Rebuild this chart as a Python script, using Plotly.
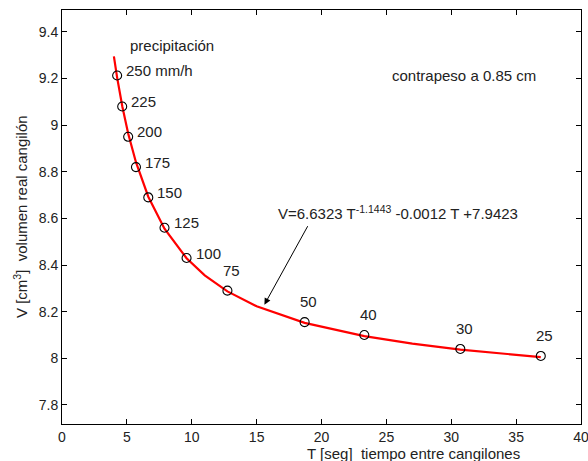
import plotly.graph_objects as go

# Measured points (T seconds, V cm3) and precipitation labels
point_T = [4.25, 4.64, 5.1, 5.7, 6.65, 7.9, 9.6, 12.75, 18.7, 23.3, 30.7, 36.9]
point_V = [9.213, 9.08, 8.95, 8.82, 8.69, 8.56, 8.43, 8.29, 8.155, 8.10, 8.04, 8.01]
point_labels = ["250 mm/h", "225", "200", "175", "150", "125", "100", "75", "50", "40", "30", "25"]

# Fitted curve
curve_T = [4.0, 4.25, 4.65, 5.1, 5.7, 6.65, 7.9, 9.6, 11, 12.75, 15, 18.7, 23.3, 27, 30.7, 34, 36.9]
curve_V = [9.295, 9.204, 9.080, 8.964, 8.841, 8.693, 8.556, 8.429, 8.356, 8.287, 8.223,
           8.152, 8.095, 8.063, 8.037, 8.019, 8.005]

x_ticks = [0, 5, 10, 15, 20, 25, 30, 35, 40]
y_ticks = [7.8, 8, 8.2, 8.4, 8.6, 8.8, 9, 9.2, 9.4]
y_tick_text = ["7.8", "8", "8.2", "8.4", "8.6", "8.8", "9", "9.2", "9.4"]

FONT = "Liberation Sans, Arial, sans-serif"
TXT = "#222222"
FS = 15

fig = go.Figure()
fig.add_trace(go.Scatter(x=curve_T, y=curve_V, mode="lines",
                         line=dict(color="#ff0000", width=2.2), hoverinfo="skip"))
fig.add_trace(go.Scatter(x=point_T, y=point_V, mode="markers",
                         marker=dict(symbol="circle-open", size=9, color="black",
                                     line=dict(width=1.1, color="black"))))

# labels: first seven right of the points, the rest above
for i, (t, v, lab) in enumerate(zip(point_T, point_V, point_labels)):
    if i < 7:
        fig.add_annotation(x=t, y=v, text=lab, showarrow=False, xanchor="left",
                           yanchor="middle", xshift=7, yshift=5,
                           font=dict(family=FONT, size=FS, color=TXT))
    else:
        fig.add_annotation(x=t, y=v, text=lab, showarrow=False, xanchor="center",
                           yanchor="bottom", xshift=4, yshift=10,
                           font=dict(family=FONT, size=FS, color=TXT))

fig.add_annotation(x=5.1, y=9.34, text="precipitación", showarrow=False,
                   xanchor="left", yanchor="middle",
                   font=dict(family=FONT, size=FS, color=TXT))
fig.add_annotation(x=30.95, y=9.215, text="contrapeso a 0.85 cm", showarrow=False,
                   xanchor="center", yanchor="middle",
                   font=dict(family=FONT, size=FS, color=TXT))
fig.add_annotation(x=16.5, y=8.625, text="V=6.6323 T<sup>-1.1443</sup> -0.0012 T +7.9423",
                   showarrow=False, xanchor="left", yanchor="middle",
                   font=dict(family=FONT, size=FS, color=TXT))
# arrow
fig.add_annotation(x=15.6, y=8.23, ax=19.0, ay=8.573, xref="x", yref="y",
                   axref="x", ayref="y", text="", showarrow=True,
                   arrowhead=2, arrowsize=1.3, arrowwidth=1, arrowcolor="black")

# axis titles
fig.add_annotation(x=(413 - 62) / 518.8, y=-(453 - 424) / 414, xref="paper", yref="paper",
                   text="T [seg]  tiempo entre cangilones", showarrow=False,
                   xanchor="center", yanchor="middle",
                   font=dict(family=FONT, size=FS, color=TXT))
fig.add_annotation(x=-(62 - 20) / 518.8, y=(424 - 216) / 414, xref="paper", yref="paper",
                   text="V [cm<sup>3</sup>]  volumen real cangilón", showarrow=False,
                   textangle=-90, xanchor="center", yanchor="middle",
                   font=dict(family=FONT, size=FS, color=TXT))

axis_common = dict(showgrid=False, zeroline=False, showline=True, linecolor="black",
                   linewidth=1, mirror="ticks", ticks="inside", ticklen=5,
                   tickcolor="black", ticklabeloverflow="allow", automargin=False,
                   tickfont=dict(family=FONT, size=14, color=TXT))
fig.update_xaxes(range=[0, 40], tickvals=x_ticks, **axis_common)
fig.update_yaxes(range=[7.718, 9.494], tickvals=y_ticks, ticktext=y_tick_text, **axis_common)

fig.update_layout(width=588, height=461, margin=dict(l=62, r=7, t=10, b=37),
                  plot_bgcolor="white", paper_bgcolor="white", showlegend=False)
fig.write_html("out.html", config={"displayModeBar": False},
               post_script="document.body.style.margin='0';document.body.style.overflow='hidden';")
